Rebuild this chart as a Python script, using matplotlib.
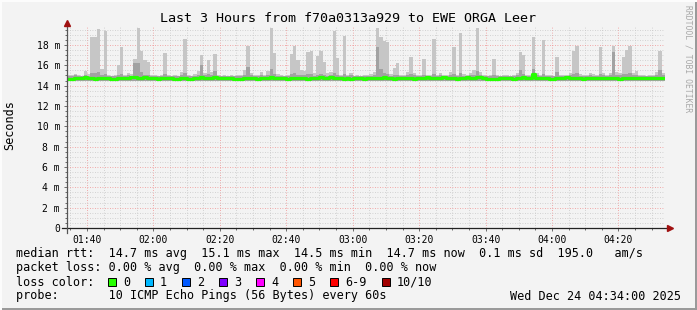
import matplotlib
matplotlib.use("Agg")
import matplotlib.pyplot as plt
from matplotlib.patches import Rectangle
import numpy as np

MONO = "DejaVu Sans Mono"

# one value per minute, 01:34 .. 04:34
start_time = "01:34"
smoke_hi = [
    15.0, 15.0, 15.1, 15.0, 14.9, 15.4, 15.1, 18.8, 18.8, 19.6, 15.6, 19.4, 15.0, 14.9, 15.0, 16.0, 17.8, 15.0, 15.2, 15.1,
    16.6, 19.7, 17.4, 16.5, 16.3, 15.0, 15.0, 14.9, 15.0, 17.2, 15.0, 14.9, 15.0, 14.9, 15.3, 18.6, 15.0, 14.9, 15.1, 15.4,
    17.0, 15.2, 16.5, 15.3, 17.1, 15.0, 14.9, 15.0, 14.9, 15.0, 14.9, 15.0, 15.0, 15.5, 17.9, 15.2, 15.0, 15.0, 15.3, 15.0,
    15.4, 19.7, 17.2, 15.1, 15.0, 14.9, 15.0, 17.1, 17.9, 16.5, 15.5, 15.4, 17.3, 17.4, 15.2, 16.9, 17.4, 16.3, 15.2, 15.3,
    19.4, 16.7, 15.0, 18.9, 15.0, 15.2, 14.9, 15.0, 14.9, 15.0, 15.0, 15.1, 15.3, 19.7, 18.8, 18.4, 18.3, 15.1, 15.7, 16.2,
    15.0, 15.0, 15.3, 16.8, 15.2, 15.0, 15.0, 16.6, 15.0, 15.0, 18.6, 15.0, 15.2, 15.0, 15.0, 15.3, 17.8, 15.0, 19.2, 15.1,
    15.0, 15.2, 15.5, 19.7, 15.3, 15.0, 14.9, 15.0, 16.6, 15.0, 14.9, 15.0, 15.0, 14.9, 15.0, 15.2, 17.3, 17.0, 15.0, 15.0,
    18.8, 15.2, 15.0, 18.5, 15.0, 15.0, 14.9, 16.8, 15.0, 15.0, 15.0, 15.2, 17.4, 17.9, 15.1, 15.0, 15.0, 15.2, 15.1, 15.0,
    17.8, 15.2, 15.0, 15.2, 17.9, 15.3, 15.2, 16.8, 17.5, 17.9, 15.2, 15.4, 15.0, 15.0, 14.9, 15.0, 15.0, 15.3, 17.4, 15.2,
]
smoke_dark = [
    14.9, 14.9, 15.0, 14.9, 14.9, 15.0, 14.9, 15.2, 15.2, 15.3, 15.0, 15.1, 14.9, 14.9, 14.9, 15.0, 15.1, 14.9, 15.0, 14.9,
    16.2, 16.2, 15.3, 15.0, 15.0, 14.9, 14.9, 14.9, 14.9, 15.1, 14.9, 14.9, 14.9, 14.9, 15.0, 15.2, 14.9, 14.9, 14.9, 15.0,
    16.0, 15.0, 15.1, 15.0, 15.4, 14.9, 14.9, 14.9, 14.9, 14.9, 14.9, 14.9, 14.9, 15.0, 15.8, 15.0, 14.9, 14.9, 15.0, 14.9,
    15.0, 15.6, 15.1, 14.9, 14.9, 14.9, 14.9, 15.1, 15.2, 15.0, 15.0, 15.0, 15.1, 15.1, 14.9, 15.0, 15.1, 15.0, 14.9, 15.0,
    15.2, 15.0, 14.9, 15.1, 14.9, 15.0, 14.9, 14.9, 14.9, 14.9, 14.9, 14.9, 15.0, 17.8, 15.6, 15.2, 15.1, 14.9, 15.0, 15.0,
    14.9, 14.9, 15.0, 15.1, 15.0, 14.9, 14.9, 15.0, 14.9, 14.9, 15.1, 14.9, 15.0, 14.9, 14.9, 15.0, 15.1, 14.9, 15.2, 14.9,
    14.9, 15.0, 15.0, 15.4, 15.0, 14.9, 14.9, 14.9, 15.0, 14.9, 14.9, 14.9, 14.9, 14.9, 14.9, 15.0, 15.5, 15.1, 14.9, 14.9,
    15.6, 15.0, 14.9, 15.1, 14.9, 14.9, 14.9, 15.3, 14.9, 14.9, 14.9, 15.0, 15.1, 15.2, 14.9, 14.9, 14.9, 15.0, 14.9, 14.9,
    15.1, 15.0, 14.9, 15.0, 17.3, 15.0, 15.0, 15.1, 15.1, 15.2, 15.0, 15.0, 14.9, 14.9, 14.9, 14.9, 14.9, 15.0, 15.5, 15.0,
]
median = [
    14.6, 14.6, 14.7, 14.7, 14.7, 14.8, 14.7, 14.7, 14.6, 14.7, 14.7, 14.7, 14.7, 14.6, 14.6, 14.7, 14.7, 14.7, 14.7, 14.8,
    14.8, 14.7, 14.7, 14.8, 14.7, 14.7, 14.7, 14.6, 14.7, 14.7, 14.7, 14.7, 14.6, 14.6, 14.7, 14.7, 14.6, 14.6, 14.7, 14.7,
    14.8, 14.7, 14.7, 14.7, 14.8, 14.7, 14.7, 14.7, 14.7, 14.7, 14.6, 14.6, 14.6, 14.7, 14.7, 14.7, 14.7, 14.6, 14.7, 14.7,
    14.7, 14.8, 14.7, 14.7, 14.7, 14.7, 14.6, 14.7, 14.7, 14.7, 14.7, 14.7, 14.6, 14.7, 14.7, 14.7, 14.8, 14.7, 14.7, 14.8,
    14.7, 14.7, 14.7, 14.6, 14.7, 14.6, 14.7, 14.7, 14.7, 14.6, 14.7, 14.7, 14.7, 14.7, 14.7, 14.8, 14.7, 14.7, 14.6, 14.7,
    14.7, 14.7, 14.7, 14.7, 14.6, 14.7, 14.7, 14.7, 14.8, 14.7, 14.7, 14.7, 14.7, 14.8, 14.7, 14.7, 14.7, 14.6, 14.7, 14.7,
    14.8, 14.7, 14.7, 14.8, 14.8, 14.7, 14.6, 14.6, 14.6, 14.6, 14.7, 14.7, 14.7, 14.7, 14.6, 14.7, 14.7, 14.8, 14.7, 14.7,
    15.1, 14.7, 14.7, 14.7, 14.7, 14.6, 14.6, 14.7, 14.7, 14.7, 14.8, 14.7, 14.7, 14.7, 14.7, 14.6, 14.7, 14.7, 14.7, 14.7,
    14.7, 14.7, 14.7, 14.7, 14.7, 14.7, 14.6, 14.7, 14.7, 14.7, 14.7, 14.7, 14.7, 14.7, 14.7, 14.7, 14.7, 14.7, 14.7, 14.7,
]
smoke_floor = 14.45

x_tick_labels = ["01:40", "02:00", "02:20", "02:40", "03:00", "03:20", "03:40", "04:00", "04:20"]
y_ticks = [0, 2, 4, 6, 8, 10, 12, 14, 16, 18]

loss_labels = ["0", "1", "2", "3", "4", "5", "6-9", "10/10"]
loss_colors = ["#26ff00", "#00b8ff", "#0059ff", "#7e00ff", "#ff00ff", "#ff5500", "#ff0000", "#a10000"]

title = "Last 3 Hours from f70a0313a929 to EWE ORGA Leer"
stats_rtt = "median rtt:  14.7 ms avg  15.1 ms max  14.5 ms min  14.7 ms now  0.1 ms sd  195.0   am/s"
stats_loss = "packet loss: 0.00 % avg  0.00 % max  0.00 % min  0.00 % now"
probe_line = "probe:       10 ICMP Echo Pings (56 Bytes) every 60s"
stamp = "Wed Dec 24 04:34:00 2025"


def to_min(hhmm):
    h, m = hhmm.split(":")
    return int(h) * 60 + int(m)


t0 = to_min(start_time)
n = len(median)
x = np.arange(n)

W, H = 697, 310
fig = plt.figure(figsize=(W / 100, H / 100), dpi=100)
fig.patch.set_facecolor("#f3f3f3")

ax = fig.add_axes([67 / W, (H - 228) / H, 598 / W, (228 - 26.6) / H])
ax.set_facecolor("#f3f3f3")
ax.set_xlim(0, n)
ax.set_ylim(0, 19.8)

hi = np.array(smoke_hi)
dk = np.array(smoke_dark)
ax.bar(x, hi - smoke_floor, bottom=smoke_floor, width=1.0, align="edge",
       color="#c6c6c6", linewidth=0, zorder=2)
ax.bar(x, dk - smoke_floor, bottom=smoke_floor, width=1.0, align="edge",
       color="#a2a2a2", linewidth=0, zorder=3)
ax.step(np.append(x, n), np.append(median, median[-1]), where="post",
        color="#26ff00", lw=2.3, zorder=4)

# grid
maj_x = [to_min(s) - t0 for s in x_tick_labels]
ax.set_xticks(maj_x)
ax.set_xticklabels(x_tick_labels)
ax.set_xticks(np.arange(maj_x[0] % 5, n, 5), minor=True)
ax.set_yticks(y_ticks)
ax.set_yticklabels(["0" if v == 0 else "%d m" % v for v in y_ticks])
ax.set_yticks(np.arange(0, 19.8, 0.5), minor=True)
ax.grid(which="minor", color="#c8c8c8", linestyle=(0, (1, 2)), lw=0.6, zorder=1)
ax.grid(which="major", color="#f09090", linestyle=(0, (1, 2)), lw=0.6, zorder=1)
ax.set_axisbelow(True)

for s in ["top", "right", "left", "bottom"]:
    ax.spines[s].set_visible(False)
ax.tick_params(which="both", direction="out", length=2, width=0.6, color="#555555",
               labelsize=7, pad=3)
ax.tick_params(which="minor", length=1.5)
for lab in ax.get_xticklabels() + ax.get_yticklabels():
    lab.set_family(MONO)

# axes with arrows
ax.plot([-1.5, n + 1.2], [0, 0], color="#222222", lw=0.9, clip_on=False, zorder=5)
ax.plot([0, 0], [-0.5, 20.0], color="#555555", lw=0.9, clip_on=False, zorder=5)
ax.plot([n + 1.6], [0], marker=">", ms=4, color="#a01010", clip_on=False, zorder=6)
ax.plot([0], [20.2], marker="^", ms=4, color="#a01010", clip_on=False, zorder=6)

fig.text(10 / W, 1 - 125 / H, "Seconds", rotation=90, ha="center", va="center",
         family=MONO, fontsize=8.5)
fig.text(348 / W, 1 - 18 / H, title, ha="center", va="center", family=MONO, fontsize=9.6)
fig.text(688 / W, 1 - 5 / H, "RRDTOOL / TOBI OETIKER", rotation=270, ha="center", va="top",
         family=MONO, fontsize=5.8, color="#a8a8a8")

fs = 8.5
fig.text(16 / W, 1 - 254 / H, stats_rtt, ha="left", va="center", family=MONO, fontsize=fs)
fig.text(16 / W, 1 - 268 / H, stats_loss, ha="left", va="center", family=MONO, fontsize=fs)
fig.text(16 / W, 1 - 282 / H, "loss color:", ha="left", va="center", family=MONO, fontsize=fs)
fig.text(16 / W, 1 - 296 / H, probe_line, ha="left", va="center", family=MONO, fontsize=fs)
fig.text(681 / W, 1 - 296 / H, stamp, ha="right", va="center", family=MONO, fontsize=fs)

sq_x = [108, 145, 182, 219, 256, 293, 330, 382]
for px, lab, col in zip(sq_x, loss_labels, loss_colors):
    fig.patches.append(Rectangle((px / W, (H - 286) / H), 8 / W, 8 / H, transform=fig.transFigure,
                                 facecolor=col, edgecolor="black", lw=0.7))
    fig.text((px + 15) / W, 1 - 282 / H, lab, ha="left", va="center", family=MONO, fontsize=fs)

# 3d frame
fig.patches.append(Rectangle((0, 0), 1, 2.5 / H, transform=fig.transFigure, color="#9a9a9a", lw=0))
fig.patches.append(Rectangle((1 - 2.5 / W, 0), 2.5 / W, 1, transform=fig.transFigure, color="#9a9a9a", lw=0))
fig.patches.append(Rectangle((0, 1 - 2 / H), 1, 2 / H, transform=fig.transFigure, color="#fcfcfc", lw=0))
fig.patches.append(Rectangle((0, 0), 2 / W, 1, transform=fig.transFigure, color="#fcfcfc", lw=0))

fig.savefig("out.png", dpi=100, facecolor=fig.get_facecolor())
